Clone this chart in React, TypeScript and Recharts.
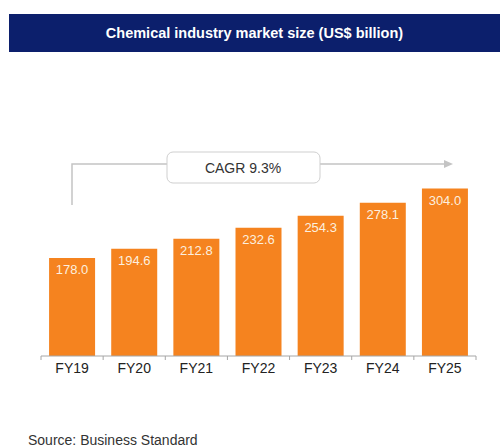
import React from "react";
import { BarChart, Bar, XAxis, YAxis, LabelList } from "recharts";

const years = ["FY19", "FY20", "FY21", "FY22", "FY23", "FY24", "FY25"];
const marketSize = [178.0, 194.6, 212.8, 232.6, 254.3, 278.1, 304.0];
const title = "Chemical industry market size (US$ billion)";
const cagrLabel = "CAGR 9.3%";
const source = "Source: Business Standard";

const data = years.map((y, i) => ({ year: y, value: marketSize[i] }));

const FONT = "'Liberation Sans', Arial, sans-serif";
const ORANGE = "#F5831F";

function BoundaryTick(props: any) {
  const { x, y, payload, index } = props;
  const off = payload?.offset ?? 0;
  const last = index === years.length - 1;
  return (
    <g>
      <line x1={x - off} x2={x - off} y1={y} y2={y + 4} stroke="#A6A6A6" />
      {last && <line x1={x + off} x2={x + off} y1={y} y2={y + 4} stroke="#A6A6A6" />}
      <text x={x} y={y + 17} textAnchor="middle" fontSize={14} fill="#222" fontFamily={FONT}>
        {payload.value}
      </text>
    </g>
  );
}

export default function App() {
  return (
    <div style={{ position: "absolute", left: 0, top: 0, width: 502, height: 448, background: "#fff", fontFamily: FONT }}>
      <div
        style={{
          position: "absolute",
          left: 9,
          top: 14,
          width: 491,
          height: 38,
          background: "#0C1F6C",
          color: "#fff",
          fontWeight: "bold",
          fontSize: 14.5,
          lineHeight: "38px",
          textAlign: "center",
        }}
      >
        {title}
      </div>
      <div style={{ position: "absolute", left: 0, top: 0 }}>
        <BarChart width={502} height={448} data={data} margin={{ top: 146, right: 26, bottom: 62, left: 41 }} barCategoryGap="13%">
          <YAxis hide domain={[0, 381]} />
          <XAxis
            dataKey="year"
            height={30}
            tickSize={0}
            tickMargin={0}
            tickLine={false}
            axisLine={{ stroke: "#A6A6A6" }}
            tick={<BoundaryTick />}
            interval={0}
          />
          <Bar dataKey="value" fill={ORANGE} isAnimationActive={false}>
            <LabelList
              dataKey="value"
              position="insideTop"
              offset={7}
              fill="#FCEFDF"
              fontSize={13}
              fontFamily={FONT}
              formatter={(v: any) => Number(v).toFixed(1)}
            />
          </Bar>
        </BarChart>
      </div>
      <svg width={502} height={448} style={{ position: "absolute", left: 0, top: 0, pointerEvents: "none" }}>
        <polyline points="72,205 72,164 445,164" fill="none" stroke="#C4C4C4" strokeWidth={1.5} />
        <polygon points="453,164 444,160 444,168" fill="#C4C4C4" />
        <rect x={167} y={152} width={153} height={31} rx={6} fill="#fff" stroke="#CFCFCF" />
        <text x={243} y={173} textAnchor="middle" fontSize={14} fill="#333" fontFamily={FONT}>
          {cagrLabel}
        </text>
        <text x={28} y={445} fontSize={14} fill="#333" fontFamily={FONT}>
          {source}
        </text>
      </svg>
    </div>
  );
}
